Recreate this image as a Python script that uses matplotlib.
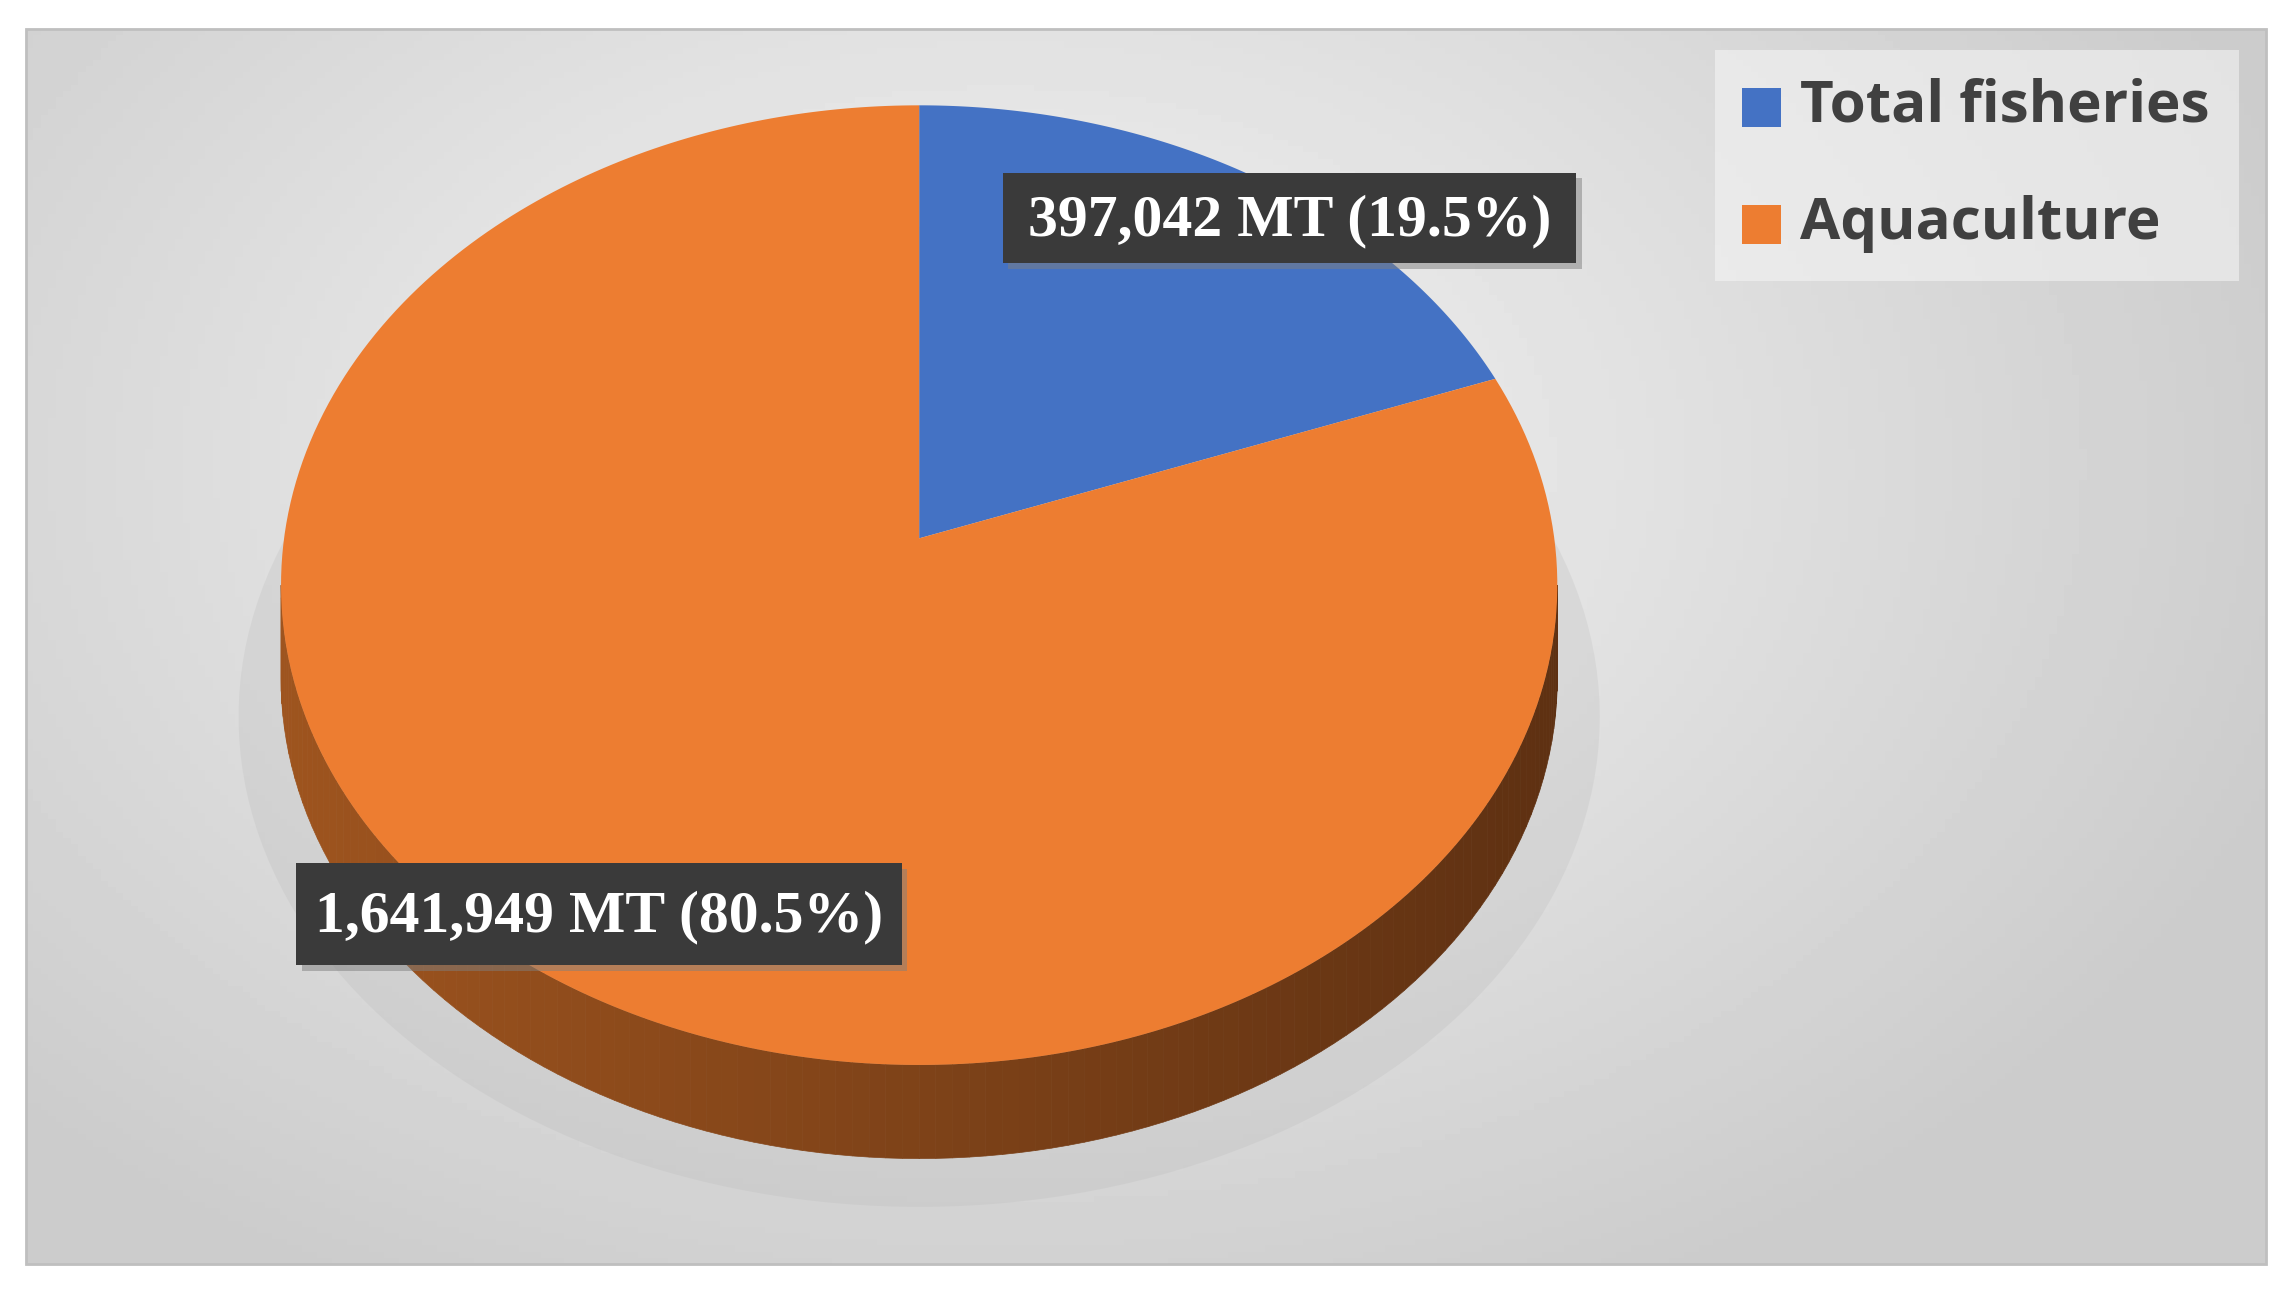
import numpy as np
import matplotlib.pyplot as plt
from matplotlib.patches import Polygon, Rectangle

# data
categories = ["Total fisheries", "Aquaculture"]
values = [397042, 1641949]
colors = ["#4472c4", "#ed7d31"]
label_texts = ["397,042 MT (19.5%)", "1,641,949 MT (80.5%)"]

W, H = 1568, 888
fig = plt.figure(figsize=(22.95, 12.99), dpi=100)
ax = fig.add_axes([0, 0, 1, 1])
ax.set_xlim(0, W)
ax.set_ylim(H, 0)
ax.axis("off")

# background panel with radial gradient
yy, xx = np.mgrid[0:200, 0:300]
r = np.hypot((xx - 130) / 170, (yy - 70) / 140)
bg = np.clip(0.96 - 0.15 * r, 0.80, 0.96)
ax.imshow(bg, cmap="gray", vmin=0, vmax=1, extent=[18, 1548, 864, 20],
          aspect="auto", zorder=0)
ax.add_patch(Rectangle((18, 20), 1530, 844, fill=False, ec="#bfbfbf", lw=2, zorder=1))

cx, cy, rx, ry, depth = 628, 400, 436, 328, 64

# soft shadow
sh = np.linspace(0, 2 * np.pi, 200)
ax.add_patch(Polygon(np.c_[cx + 465 * np.cos(sh), cy + 90 + 335 * np.sin(sh)],
                     fc="#b0b0b0", ec="none", alpha=0.2, zorder=2))

# side band of the pie (front half), shaded left to right
n = 120
ts = np.linspace(0, np.pi, n + 1)
for i in range(n):
    t0, t1 = ts[i], ts[i + 1]
    x0, x1 = cx + rx * np.cos(t0), cx + rx * np.cos(t1)
    y0, y1 = cy + ry * np.sin(t0), cy + ry * np.sin(t1)
    f = (np.cos((t0 + t1) / 2) + 1) / 2  # 1 right, 0 left
    left = np.array([0.62, 0.33, 0.12])
    right = np.array([0.37, 0.19, 0.07])
    c = left * (1 - f) + right * f
    ax.add_patch(Polygon([[x0, y0], [x1, y1], [x1, y1 + depth], [x0, y0 + depth]],
                         fc=c, ec=c, lw=0.5, zorder=3))

# top face, with a perspective correction of the angles
k = 0.76
def persp(deg):
    th = np.radians(deg)
    return np.arctan2(np.sin(th), np.cos(th) * k)

total = sum(values)
start = 90.0
for v, col in zip(values, colors):
    span = 360.0 * v / total
    a = persp(np.linspace(start, start - span, 300))
    pts = np.c_[cx + rx * np.cos(a), cy - ry * np.sin(a)]
    pts = np.vstack([[cx, cy - 32], pts])
    ax.add_patch(Polygon(pts, fc=col, ec="none", zorder=4))
    start -= span

# data labels
label_pos = [(685, 118, 392, 62), (202, 590, 414, 70)]
for (x, y, w, h), txt in zip(label_pos, label_texts):
    ax.add_patch(Rectangle((x + 4, y + 4), w, h, fc="#7f7f7f", ec="none", alpha=0.5, zorder=5))
    ax.add_patch(Rectangle((x, y), w, h, fc="#3a3a3a", ec="none", zorder=6))
    ax.text(x + w / 2, y + h / 2 + 2, txt, ha="center", va="center", color="white",
            fontsize=43, fontweight="bold", family="Liberation Serif", zorder=7)

# legend
ax.add_patch(Rectangle((1172, 34), 358, 158, fc="#f4f4f4", ec="none", alpha=0.6, zorder=5))
for i, (cat, col) in enumerate(zip(categories, colors)):
    y = 73 + i * 80
    ax.add_patch(Rectangle((1190, y - 13), 27, 27, fc=col, ec="none", zorder=6))
    ax.text(1230, y, cat, ha="left", va="center", color="#404040",
            fontsize=42, fontweight="bold", family="Open Sans", zorder=6)

fig.savefig("out.png", dpi=100, facecolor="white")
